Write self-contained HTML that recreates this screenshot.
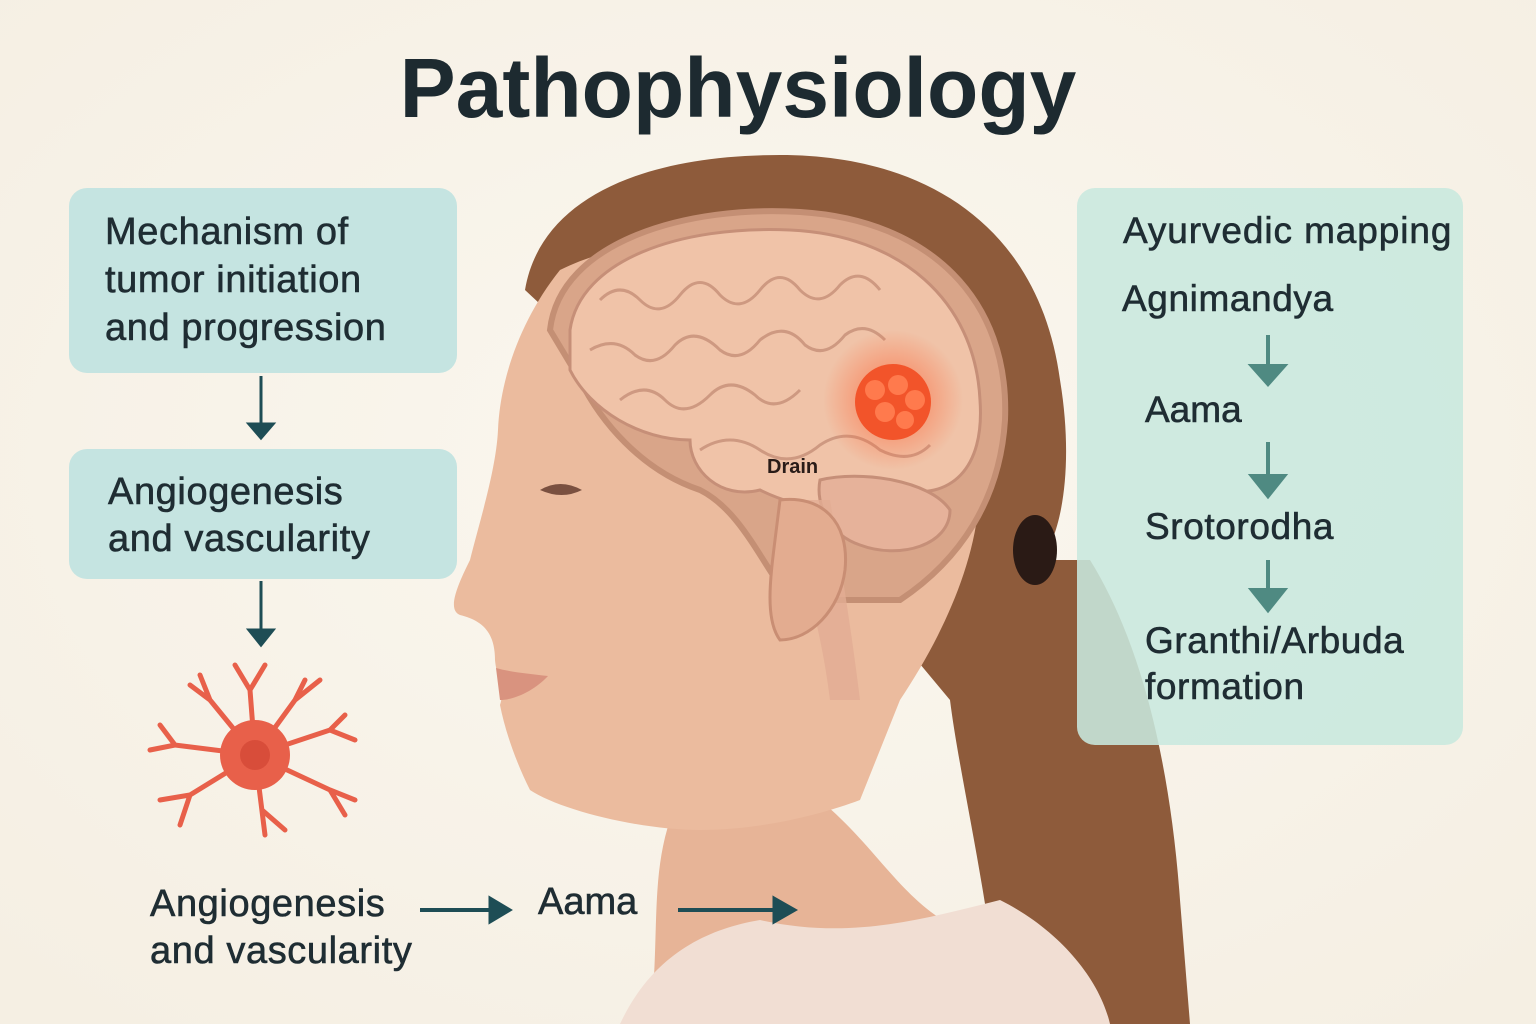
<!DOCTYPE html>
<html><head><meta charset="utf-8"><style>
html,body{margin:0;padding:0}
body{width:1536px;height:1024px;overflow:hidden;background:#f8f4ec;position:relative;font-family:"Liberation Sans","DejaVu Sans",sans-serif;color:#1f2d33}
.t{position:absolute;white-space:nowrap}
.box{position:absolute;border-radius:18px}
svg{position:absolute;left:0;top:0}
</style></head><body>
<svg width="1536" height="1024" viewBox="0 0 1536 1024">
<defs>
<radialGradient id="bg" cx="50%" cy="45%" r="70%"><stop offset="0" stop-color="#fbf7ef"/><stop offset="1" stop-color="#f5efe3"/></radialGradient>
<radialGradient id="glow" cx="50%" cy="50%" r="50%"><stop offset="0" stop-color="#ff5a2a" stop-opacity="0.7"/><stop offset="1" stop-color="#ff5a2a" stop-opacity="0"/></radialGradient>
</defs>
<rect width="1536" height="1024" fill="url(#bg)"/>
<path d="M525 290 C540 200 640 155 780 155 C930 155 1040 230 1060 380 C1075 470 1060 540 1040 560 L1090 560 C1140 640 1170 760 1180 900 L1190 1024 L1000 1024 C990 900 960 780 950 700 L900 640 Z" fill="#8e5b3b"/>
<path d="M650 1024 C660 940 650 880 670 820 L820 800 C880 850 900 900 960 930 L1110 1024 Z" fill="#e7b497"/>
<path d="M620 1024 C650 960 700 930 760 920 C850 940 920 920 1000 900 C1060 930 1100 980 1110 1024 Z" fill="#f1ded3"/>
<path d="M560 270 C520 320 500 380 498 430 C496 470 480 520 470 560 C455 590 448 610 460 615 C480 620 495 630 495 660 C497 680 505 690 500 705 C505 730 515 760 530 790 C560 810 640 830 700 830 C760 830 820 815 860 800 L900 700 C940 640 980 560 980 480 C980 340 880 250 760 240 C680 235 610 245 560 270 Z" fill="#ebbb9e"/>
<path d="M496 668 C510 672 530 674 548 676 C535 690 515 700 500 700 Z" fill="#d9937f"/>
<path d="M550 330 C560 240 690 205 800 212 C930 220 1010 300 1005 420 C1000 500 960 560 900 600 L790 600 C760 560 740 510 700 490 C640 470 600 420 580 380 Z" fill="#d9a589" stroke="#c48f74" stroke-width="6"/>
<path d="M570 330 C580 260 680 225 790 230 C900 235 975 300 980 400 C985 470 950 500 900 490 C860 520 800 510 760 490 C720 500 690 470 690 440 C640 440 590 410 570 370 Z" fill="#f0c3a8" stroke="#c68f78" stroke-width="3"/>
<g fill="none" stroke="#c68f78" stroke-width="3" opacity="0.8">
<path d="M600 300 q20 -20 40 0 q20 20 40 -5 q20 -25 40 0 q20 20 40 -5 q20 -25 40 0 q20 20 40 -5 q20 -20 40 5"/>
<path d="M590 350 q25 -15 45 5 q20 15 40 -10 q20 -20 45 5 q20 15 40 -10 q25 -20 45 5 q20 15 40 -10 q20 -15 40 5"/>
<path d="M620 400 q25 -20 45 0 q20 20 45 -5 q20 -20 45 0 q20 20 45 -5"/>
<path d="M700 450 q30 -20 60 0 q30 20 60 -5 q30 -20 60 5 q30 15 50 -5"/>
</g>
<path d="M820 480 C860 470 930 480 950 510 C950 545 900 560 860 545 C830 535 815 505 820 480 Z" fill="#e6b29a" stroke="#c68f78" stroke-width="3"/>
<path d="M780 500 C800 560 820 620 830 700 L860 700 C850 620 840 560 830 500 Z" fill="#e2ad93" opacity="0.8"/>
<path d="M780 500 C820 495 850 520 845 570 C840 610 810 640 780 640 C765 620 770 580 775 540 Z" fill="#e3ac90" stroke="#c98e74" stroke-width="3"/>
<circle cx="893" cy="400" r="70" fill="url(#glow)"/>
<circle cx="893" cy="402" r="38" fill="#f2542a"/>
<g fill="#ff7a4d"><circle cx="875" cy="390" r="10"/><circle cx="898" cy="385" r="10"/><circle cx="915" cy="400" r="10"/><circle cx="885" cy="412" r="10"/><circle cx="905" cy="420" r="9"/></g>
<path d="M540 490 q20 -12 42 0 q-20 10 -42 0 Z" fill="#7a5040"/>
<ellipse cx="1035" cy="550" rx="22" ry="35" fill="#2a1a15"/>
<g stroke="#1e4d55" stroke-width="3" fill="#1e4d55">
<line x1="261" y1="376" x2="261" y2="428"/><path d="M249 424 L273 424 L261 438 Z"/>
<line x1="261" y1="581" x2="261" y2="634"/><path d="M249 630 L273 630 L261 645 Z"/>
<line x1="420" y1="910" x2="492" y2="910" stroke-width="4"/><path d="M490 898 L510 910 L490 922 Z"/>
<line x1="678" y1="910" x2="776" y2="910" stroke-width="4"/><path d="M774 898 L795 910 L774 922 Z"/>
</g>
<g stroke="#e8604a" stroke-width="5" fill="none" stroke-linecap="round">
<path d="M255 755 L250 690 L235 665 M250 690 L265 665"/>
<path d="M255 755 L295 700 L320 680 M295 700 L305 680"/>
<path d="M255 755 L330 730 L355 740 M330 730 L345 715"/>
<path d="M255 755 L330 790 L355 800 M330 790 L345 815"/>
<path d="M255 755 L265 835 M262 810 L285 830"/>
<path d="M255 755 L190 795 L160 800 M190 795 L180 825"/>
<path d="M255 755 L175 745 L150 750 M175 745 L160 725"/>
<path d="M255 755 L210 700 L190 685 M210 700 L200 675"/>
</g>
<circle cx="255" cy="755" r="35" fill="#e8604a"/>
<circle cx="255" cy="755" r="15" fill="#d84d3a"/>
</svg>
<div class="box" style="left:69px;top:188px;width:388px;height:185px;background:#c5e4e1"></div>
<div class="box" style="left:69px;top:449px;width:388px;height:130px;background:#c5e4e1"></div>
<div class="box" style="left:1077px;top:188px;width:386px;height:557px;background:rgba(200,232,222,0.88)"></div>
<svg width="1536" height="1024" viewBox="0 0 1536 1024" style="pointer-events:none">
<g stroke="#4f8a82" stroke-width="4" fill="#4f8a82">
<line x1="1268" y1="335" x2="1268" y2="370"/><path d="M1252 366 L1284 366 L1268 384 Z"/>
<line x1="1268" y1="442" x2="1268" y2="480"/><path d="M1252 476 L1284 476 L1268 496 Z"/>
<line x1="1268" y1="560" x2="1268" y2="594"/><path d="M1252 590 L1284 590 L1268 610 Z"/>
</g></svg>
<div class="t" style="left:0;width:1476px;text-align:center;top:40px;font-size:84px;font-weight:bold;color:#1d2a30">Pathophysiology</div>
<div class="t" style="left:105px;top:208px;font-size:38px;line-height:48px;letter-spacing:0.6px;-webkit-text-stroke:0.6px #1f2d33">Mechanism of<br>tumor initiation<br>and progression</div>
<div class="t" style="left:108px;top:469px;font-size:38px;line-height:47px;letter-spacing:0.6px;-webkit-text-stroke:0.6px #1f2d33">Angiogenesis<br>and vascularity</div>
<div class="t" style="left:150px;top:881px;font-size:38px;line-height:47px;letter-spacing:0.6px;-webkit-text-stroke:0.6px #1f2d33">Angiogenesis<br>and vascularity</div>
<div class="t" style="left:538px;top:881px;font-size:38px;-webkit-text-stroke:0.6px #1f2d33">Aama</div>
<div class="t" style="left:767px;top:456px;font-size:20px;font-weight:bold;color:#2a1c18">Drain</div>
<div class="t" style="left:1123px;top:210px;font-size:37px;letter-spacing:0.9px;-webkit-text-stroke:0.6px #1f2d33">Ayurvedic mapping</div>
<div class="t" style="left:1122px;top:278px;font-size:37px;letter-spacing:0.6px;-webkit-text-stroke:0.6px #1f2d33">Agnimandya</div>
<div class="t" style="left:1145px;top:389px;font-size:37px;-webkit-text-stroke:0.6px #1f2d33">Aama</div>
<div class="t" style="left:1145px;top:506px;font-size:37px;letter-spacing:0.6px;-webkit-text-stroke:0.6px #1f2d33">Srotorodha</div>
<div class="t" style="left:1145px;top:618px;font-size:37px;line-height:46px;letter-spacing:0.6px;-webkit-text-stroke:0.6px #1f2d33">Granthi/Arbuda<br>formation</div>
</body></html>
